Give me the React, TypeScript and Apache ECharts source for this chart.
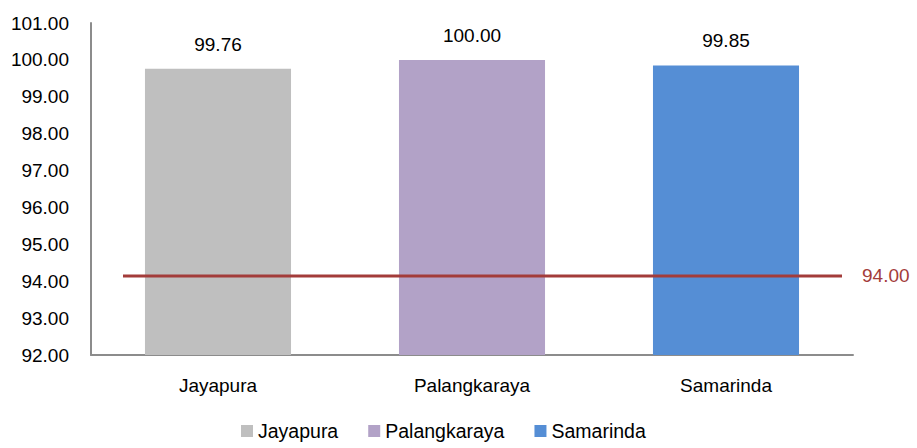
import React, { useEffect, useRef } from "react";
import * as echarts from "echarts";

const categories = ["Jayapura", "Palangkaraya", "Samarinda"];
const values = [99.76, 100.0, 99.85];
const colors = ["#BFBFBF", "#B2A2C7", "#558ED5"];
const targetValue = 94.0;
const yTicks = { min: 92, max: 101, interval: 1 };

const FONT = "'Liberation Sans', Arial, sans-serif";
const FS = 19;

export default function App() {
  const ref = useRef<HTMLDivElement>(null);
  useEffect(() => {
    document.body.style.margin = "0";
    if (!ref.current) return;
    const chart = echarts.init(ref.current, null, { renderer: "svg" });
    const barSeries = categories.map((name, i) => ({
      name,
      type: "bar",
      stack: "all",
      xAxisIndex: 0,
      yAxisIndex: 0,
      barCategoryGap: "42.5%",
      data: categories.map((_, j) => (j === i ? values[i] : "-")),
      itemStyle: { color: colors[i] },
      label: {
        show: true,
        position: "top",
        distance: 15,
        color: "#000",
        fontSize: FS,
        fontFamily: FONT,
        formatter: (p: any) => Number(p.value).toFixed(2),
      },
    }));
    chart.setOption({
      animation: false,
      textStyle: { fontFamily: FONT },
      grid: { left: 91, right: 64, top: 23, bottom: 93, containLabel: false },
      legend: {
        data: categories,
        left: 236,
        top: 421,
        padding: [0, 5, 0, 5],
        icon: "rect",
        itemWidth: 12,
        itemHeight: 12,
        itemGap: 30,
        textStyle: { fontSize: 19.5, color: "#000", fontFamily: FONT },
      },
      xAxis: [
        {
          type: "category",
          data: categories,
          axisLine: { onZero: false, lineStyle: { color: "#8C8C8C", width: 2 } },
          axisTick: { show: false },
          axisLabel: { fontSize: FS, color: "#000", margin: 21, fontFamily: FONT },
        },
        {
          type: "value",
          min: -0.0445,
          max: 1.0153,
          show: false,
        },
      ],
      yAxis: [
        {
          type: "value",
          min: yTicks.min,
          max: yTicks.max,
          interval: yTicks.interval,
          axisLine: { show: true, onZero: false, lineStyle: { color: "#8C8C8C", width: 2 } },
          axisTick: { show: false },
          splitLine: { show: false },
          axisLabel: {
            fontSize: FS,
            color: "#000",
            margin: 22,
            fontFamily: FONT,
            formatter: (v: number) => v.toFixed(2),
          },
        },
        {
          type: "value",
          min: 92,
          max: 100.4,
          show: false,
        },
      ],
      series: [
        ...barSeries,
        {
          name: "Target",
          type: "line",
          xAxisIndex: 1,
          yAxisIndex: 1,
          symbol: "none",
          data: [
            [0, targetValue],
            [1, targetValue],
          ],
          lineStyle: { color: "#A33C3A", width: 3 },
          endLabel: {
            show: true,
            distance: 20,
            color: "#A33C3A",
            fontSize: FS,
            fontFamily: FONT,
            formatter: () => targetValue.toFixed(2),
          },
        },
      ],
    });
    return () => chart.dispose();
  }, []);
  return <div ref={ref} style={{ width: 917, height: 448 }} />;
}
